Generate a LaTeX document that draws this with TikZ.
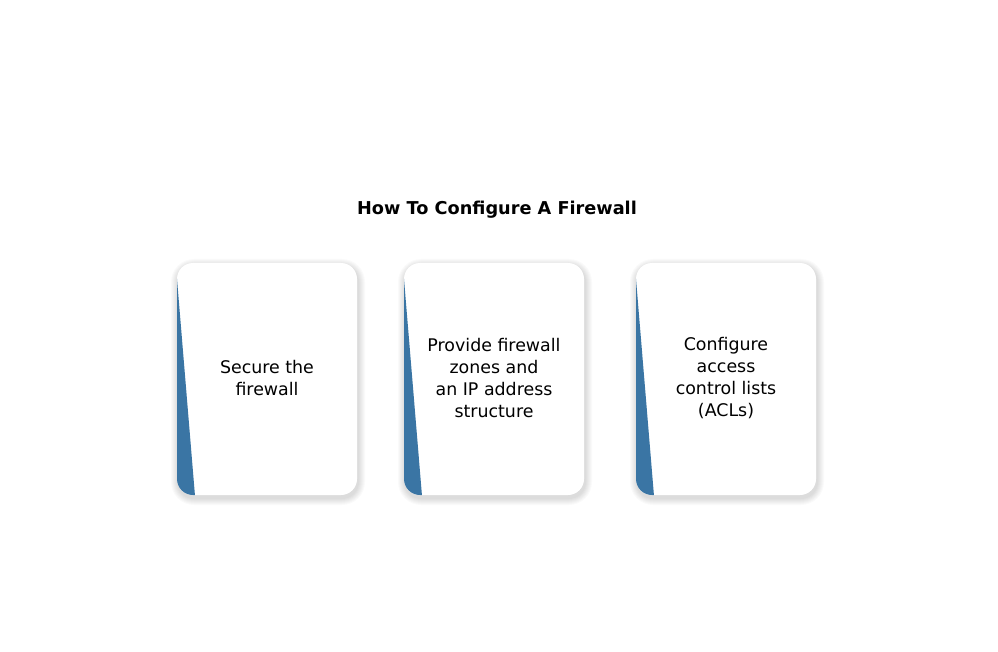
\documentclass[tikz,border=0pt]{standalone}
\usepackage{fontspec}
\setmainfont{DejaVu Sans}
\definecolor{cardblue}{RGB}{58,117,164}
\begin{document}
\begin{tikzpicture}[x = 1pt, y = -1pt,
  cardtext/.style = {align = center, font = \fontsize{17.4}{21.7}\selectfont, text = black}]
\useasboundingbox[fill = white] (0, 0) rectangle (998, 652);

\node[font = \bfseries\fontsize{17.7}{22}\selectfont] (title) at (497, 210) {How To Configure A Firewall};

\foreach \x/\name/\txt in {177/secure/{Secure the\\firewall}, 404/zones/{Provide firewall\\zones and\\an IP address\\structure}, 636/acl/{Configure\\access\\control lists\\(ACLs)}} {
  \foreach \s in {1, ..., 7}
    \fill[black, opacity = 0.02, rounded corners = 16 + \s] (\x - \s + 1, 263 - \s + 3) rectangle (\x + 180 + \s + 1, 495 + \s + 3);
  \fill[white, rounded corners = 16] (\x, 263) rectangle (\x + 180, 495);
  \begin{scope}
    \clip[rounded corners = 16] (\x, 263) rectangle (\x + 180, 495);
    \fill[cardblue] (\x - 1, 279) -- (\x, 279) -- (\x + 18, 496) -- (\x - 1, 496) -- cycle;
  \end{scope}
  \node[cardtext] (\name) at (\x + 90, 378) {\txt};
}
\end{tikzpicture}
\end{document}
